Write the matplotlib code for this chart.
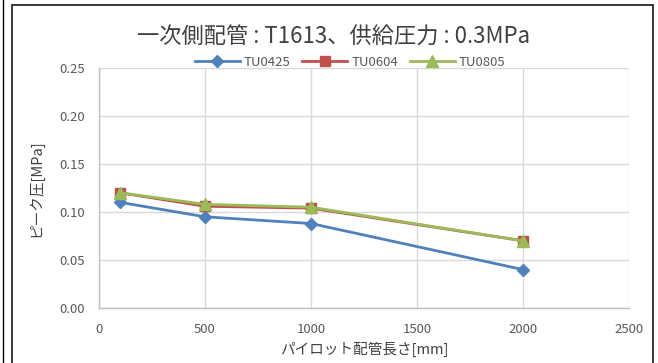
import matplotlib
matplotlib.use("Agg")
import matplotlib.pyplot as plt
from matplotlib.patches import Rectangle
from matplotlib.lines import Line2D

plt.rcParams['font.family'] = ['Noto Sans CJK JP', 'DejaVu Sans']

lengths = [100, 500, 1000, 2000]
tu0425 = [0.110, 0.095, 0.088, 0.040]
tu0604 = [0.120, 0.106, 0.104, 0.070]
tu0805 = [0.120, 0.108, 0.105, 0.070]
series_names = ["TU0425", "TU0604", "TU0805"]
x_ticks = [0, 500, 1000, 1500, 2000, 2500]
y_ticks = [0.00, 0.05, 0.10, 0.15, 0.20, 0.25]
title = "一次側配管 : T1613、供給圧力 : 0.3MPa"
x_label = "パイロット配管長さ[mm]"
y_label = "ピーク圧[MPa]"

fig = plt.figure(figsize=(6.58, 3.63), dpi=100)
fig.patch.set_facecolor("white")

# outer chart frames
fig.add_artist(Line2D([2.5/658, 2.5/658], [0, 1], color="black", lw=1.0, transform=fig.transFigure))
fig.add_artist(Rectangle((11.5/658, -0.05), (652.5-11.5)/658, 1.05 - 5.5/363,
                         transform=fig.transFigure, fill=False, edgecolor="#262626", lw=1.3))

ax = fig.add_axes([99/658, 1-308/363, (629-99)/658, (308-68)/363])

styles = [
    (tu0425, "#4F81BD", "D", 6),
    (tu0604, "#C0504D", "s", 7),
    (tu0805, "#9BBB59", "^", 8),
]
for (vals, color, marker, ms), name in zip(styles, series_names):
    ax.plot(lengths, vals, color=color, lw=2.0, marker=marker, markersize=ms,
            markeredgecolor=color, label=name, zorder=3)

ax.set_xlim(0, 2500)
ax.set_ylim(0, 0.25)
ax.set_xticks(x_ticks)
ax.set_yticks(y_ticks)
ax.set_xticklabels([str(v) for v in x_ticks])
ax.set_yticklabels([f"{v:.2f}" for v in y_ticks])
ax.grid(True, color="#D9D9D9", lw=1.0, zorder=0)
ax.tick_params(axis="x", length=0, labelsize=9.5, colors="#595959", pad=11)
ax.tick_params(axis="y", length=0, labelsize=9.5, colors="#595959", pad=10)
for side in ["top", "right"]:
    ax.spines[side].set_visible(False)
for side in ["left", "bottom"]:
    ax.spines[side].set_color("#BFBFBF")
    ax.spines[side].set_linewidth(1.0)

ax.set_xlabel(x_label, fontsize=10.5, color="#404040", labelpad=4)
ax.set_ylabel(y_label, fontsize=10.5, color="#404040", labelpad=12)

fig.text(334/658, 1-37/363, title, ha="center", va="center", fontsize=16, color="#404040")

leg = ax.legend(loc="center", bbox_to_anchor=(350/658, 1-62/363), bbox_transform=fig.transFigure,
                ncol=3, frameon=False, fontsize=9.5, handlelength=3.4, columnspacing=0.9,
                handletextpad=0.3, borderpad=0)
for t in leg.get_texts():
    t.set_color("#595959")

fig.savefig("out.png", dpi=100, facecolor="white")
